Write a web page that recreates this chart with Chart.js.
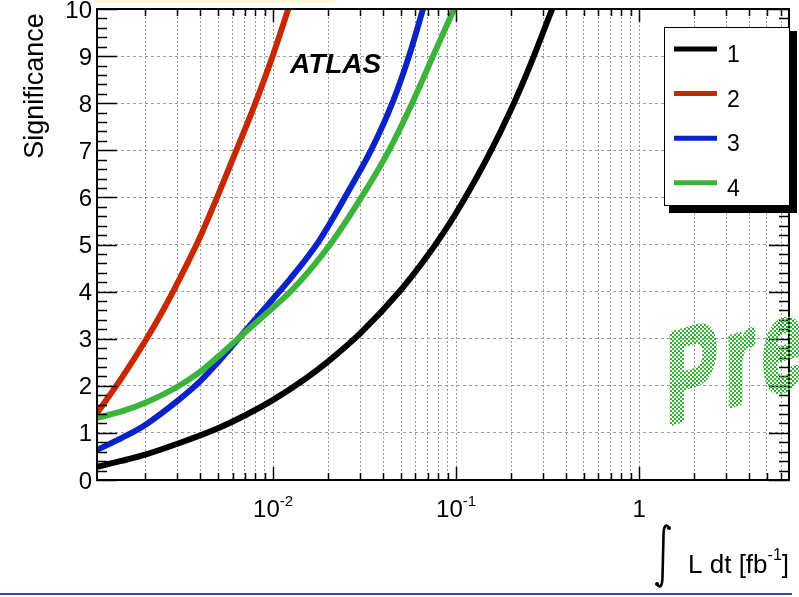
<!DOCTYPE html>
<html>
<head>
<meta charset="utf-8">
<script src="https://cdn.jsdelivr.net/npm/chart.js@4.4.0/dist/chart.umd.min.js"></script>
<style>
  html, body { margin: 0; padding: 0; background: #fff; }
  #wrap { width: 799px; height: 597px; position: relative; }
</style>
</head>
<body>
<div id="wrap"><canvas id="chart" width="799" height="597"></canvas></div>
<script>
// integrated luminosity [fb^-1] and significance for each scenario
const lumi1 = [0.00109, 0.0015, 0.002, 0.003, 0.005, 0.007, 0.01, 0.015, 0.02, 0.03, 0.05, 0.07, 0.1, 0.15, 0.2, 0.25, 0.335];
const sig1  = [0.28, 0.41, 0.54, 0.77, 1.1, 1.37, 1.7, 2.15, 2.52, 3.12, 4.04, 4.77, 5.67, 6.88, 7.87, 8.74, 10.0];

const lumi2 = [0.00109, 0.0015, 0.002, 0.0025, 0.003, 0.004, 0.005, 0.006, 0.008, 0.01, 0.0121];
const sig2  = [1.42, 2.19, 2.95, 3.6, 4.18, 5.17, 6.05, 6.8, 8.0, 9.03, 10.0];

const lumi3 = [0.00109, 0.0015, 0.002, 0.003, 0.004, 0.005, 0.0063, 0.01, 0.0124, 0.018, 0.0264, 0.0348, 0.0453, 0.0553, 0.066];
const sig3  = [0.64, 0.9, 1.17, 1.68, 2.1, 2.5, 2.95, 3.85, 4.27, 5.1, 6.2, 7.05, 8.05, 9.0, 10.0];

const lumi4 = [0.00109, 0.0015, 0.002, 0.003, 0.004, 0.005, 0.0063, 0.0085, 0.0128, 0.0205, 0.0315, 0.043, 0.0575, 0.0748, 0.0975];
const sig4  = [1.32, 1.46, 1.64, 1.98, 2.3, 2.62, 2.97, 3.42, 4.05, 5.0, 6.1, 7.0, 8.0, 9.0, 10.0];

const seriesNames  = ["1", "2", "3", "4"];
const seriesColors = ["#000000", "#c82800", "#0a23c8", "#3cb43c"];

const xMin = 0.00109, xMax = 6.6;
const yMin = 0, yMax = 10;
const yTickValues = [0, 1, 2, 3, 4, 5, 6, 7, 8, 9, 10];
const xLabelValues = [0.01, 0.1, 1];
const xLabelBase   = ["10", "10", "1"];
const xLabelExp    = ["-2", "-1", ""];

const FONT = '"Liberation Sans", Arial, Helvetica, sans-serif';

function points(xs, ys) {
  return xs.map((x, i) => ({ x: x, y: ys[i] }));
}

function logTicks(min, max) {
  const out = [];
  for (let e = Math.floor(Math.log10(min)); e <= Math.ceil(Math.log10(max)); e++) {
    for (let m = 1; m <= 9; m++) {
      const v = m * Math.pow(10, e);
      if (v >= min && v <= max) out.push({ value: v });
    }
  }
  return out;
}

function isDecade(v) {
  const l = Math.log10(v);
  return Math.abs(l - Math.round(l)) < 1e-9;
}

function line(ctx, x1, y1, x2, y2) {
  ctx.beginPath();
  ctx.moveTo(x1, y1);
  ctx.lineTo(x2, y2);
  ctx.stroke();
}

// thin integral sign drawn as a stroke
function integralSign(ctx, x, top, bottom) {
  ctx.save();
  ctx.strokeStyle = "#000";
  ctx.fillStyle = "#000";
  ctx.lineWidth = 2.6;
  ctx.lineCap = "round";
  ctx.beginPath();
  ctx.moveTo(x + 6, top + 4);
  ctx.bezierCurveTo(x + 3, top - 1, x + 0.5, top + 2, x + 0.5, top + 12);
  ctx.lineTo(x - 0.5, bottom - 12);
  ctx.bezierCurveTo(x - 0.5, bottom - 2, x - 3, bottom + 1, x - 6, bottom - 4);
  ctx.stroke();
  ctx.beginPath();
  ctx.arc(x + 6, top + 4, 2, 0, Math.PI * 2);
  ctx.arc(x - 6, bottom - 4, 2, 0, Math.PI * 2);
  ctx.fill();
  ctx.restore();
}

// frame, ticks, labels, legend and watermark in ROOT style
const decorations = {
  id: "decorations",
  afterDraw(chart) {
    const { ctx, chartArea: a, scales } = chart;
    const xs = scales.x, ys = scales.y;
    ctx.save();

    // faint strip and bottom rule
    ctx.fillStyle = "#fdf8d6";
    ctx.fillRect(95, 0, 240, 3);
    ctx.fillStyle = "#3c48a8";
    ctx.fillRect(0, 593, 792, 2);

    // tick marks
    ctx.strokeStyle = "#000";
    ctx.lineWidth = 1.5;
    xs.ticks.forEach((t) => {
      const px = Math.round(xs.getPixelForValue(t.value)) + 0.5;
      const len = isDecade(t.value) ? 13 : 7;
      line(ctx, px, a.bottom, px, a.bottom - len);
      line(ctx, px, a.top, px, a.top + len);
    });
    for (let i = 0; i <= 50; i++) {
      const py = Math.round(ys.getPixelForValue(i * 0.2)) + 0.5;
      const len = i % 5 === 0 ? 20 : 10;
      line(ctx, a.left, py, a.left + len, py);
      line(ctx, a.right, py, a.right - len, py);
    }
    ctx.lineWidth = 2;
    ctx.strokeRect(a.left, a.top, a.right - a.left, a.bottom - a.top);

    // y tick labels
    ctx.fillStyle = "#000";
    ctx.font = "24px " + FONT;
    ctx.textAlign = "right";
    ctx.textBaseline = "alphabetic";
    yTickValues.forEach((v) => {
      ctx.fillText(String(v), 92, ys.getPixelForValue(v) + 8.5);
    });

    // x tick labels with exponents
    ctx.textAlign = "left";
    xLabelValues.forEach((v, i) => {
      ctx.font = "24px " + FONT;
      const wb = ctx.measureText(xLabelBase[i]).width;
      ctx.font = "15px " + FONT;
      const we = xLabelExp[i] ? ctx.measureText(xLabelExp[i]).width : 0;
      const x0 = xs.getPixelForValue(v) - (wb + we) / 2;
      ctx.font = "24px " + FONT;
      ctx.fillText(xLabelBase[i], x0, 517);
      if (xLabelExp[i]) {
        ctx.font = "15px " + FONT;
        ctx.fillText(xLabelExp[i], x0 + wb, 506);
      }
    });

    // y title
    ctx.save();
    ctx.translate(43, 86);
    ctx.rotate(-Math.PI / 2);
    ctx.textAlign = "center";
    ctx.font = "27px " + FONT;
    ctx.fillText("Significance", 0, 0);
    ctx.restore();

    // x title, right aligned to the frame
    ctx.font = "26px " + FONT;
    const wMain = ctx.measureText("L dt [fb").width;
    const wClose = ctx.measureText("]").width;
    ctx.font = "16px " + FONT;
    const wSup = ctx.measureText("-1").width;
    const tx = 789 - wMain - wSup - wClose;
    ctx.font = "26px " + FONT;
    ctx.fillText("L dt [fb", tx, 573);
    ctx.font = "16px " + FONT;
    ctx.fillText("-1", tx + wMain, 560);
    ctx.font = "26px " + FONT;
    ctx.fillText("]", tx + wMain + wSup, 573);
    integralSign(ctx, 663, 524, 588);

    // ATLAS label
    ctx.font = "italic bold 28px " + FONT;
    ctx.fillText("ATLAS", 290, 73);

    // legend with drop shadow
    const lx = 664, ly = 27, lw = 125, lh = 178;
    ctx.fillStyle = "#000";
    ctx.fillRect(lx + 5, ly + 4, lw + 3, lh + 4);
    ctx.fillStyle = "#fff";
    ctx.fillRect(lx, ly, lw, lh);
    ctx.lineWidth = 1;
    ctx.strokeStyle = "#000";
    ctx.strokeRect(lx + 0.5, ly + 0.5, lw, lh);
    ctx.font = "23px " + FONT;
    chart.data.datasets.forEach((ds, i) => {
      const yy = 49 + i * 44.6;
      ctx.strokeStyle = ds.borderColor;
      ctx.lineWidth = 5;
      line(ctx, 674, yy, 717, yy);
      ctx.fillStyle = "#000";
      ctx.fillText(ds.label, 727, yy + 13);
    });

    // checkered "Preliminary" stamp, mostly past the right edge
    const off = document.createElement("canvas");
    off.width = chart.width;
    off.height = chart.height;
    const oc = off.getContext("2d");
    oc.setTransform(0.6, -0.18, 0, 1, 666, 425);
    oc.font = "bold 130px " + FONT;
    oc.fillStyle = "#000";
    oc.strokeStyle = "#000";
    oc.lineWidth = 5;
    oc.lineJoin = "round";
    let u = 0;
    for (const ch of "Preliminary") {
      oc.fillText(ch, u, 0);
      oc.strokeText(ch, u, 0);
      u += oc.measureText(ch).width + 11;
    }
    oc.setTransform(1, 0, 0, 1, 0, 0);
    const tile = document.createElement("canvas");
    tile.width = 4;
    tile.height = 4;
    const tc = tile.getContext("2d");
    tc.fillStyle = "#33b033";
    tc.fillRect(0, 0, 2, 2);
    tc.fillRect(2, 2, 2, 2);
    oc.globalCompositeOperation = "source-in";
    oc.fillStyle = oc.createPattern(tile, "repeat");
    oc.fillRect(0, 0, off.width, off.height);
    ctx.drawImage(off, 0, 0);

    ctx.restore();
  }
};

const datasets = [
  [lumi1, sig1], [lumi2, sig2], [lumi3, sig3], [lumi4, sig4]
].map(([xs, ys], i) => ({
  label: seriesNames[i],
  data: points(xs, ys),
  borderColor: seriesColors[i],
  backgroundColor: seriesColors[i],
  borderWidth: 6,
  pointRadius: 0,
  fill: false,
  cubicInterpolationMode: "monotone",
  order: [0, 1, 3, 2][i]
}));

new Chart(document.getElementById("chart"), {
  type: "line",
  data: { datasets: datasets },
  options: {
    responsive: false,
    animation: false,
    events: [],
    layout: { padding: { left: 97, top: 9, right: 10, bottom: 117 } },
    plugins: { legend: { display: false }, tooltip: { enabled: false } },
    scales: {
      x: {
        type: "logarithmic",
        min: xMin,
        max: xMax,
        afterBuildTicks: (axis) => { axis.ticks = logTicks(xMin, xMax); },
        afterFit: (axis) => { axis.height = 0; },
        ticks: { display: false, autoSkip: false },
        grid: { color: "#9a9a9a", lineWidth: 1, drawTicks: false },
        border: { display: false, dash: [2, 2] }
      },
      y: {
        type: "linear",
        min: yMin,
        max: yMax,
        afterBuildTicks: (axis) => { axis.ticks = yTickValues.map((v) => ({ value: v })); },
        afterFit: (axis) => { axis.width = 0; },
        ticks: { display: false },
        grid: { color: "#9a9a9a", lineWidth: 1, drawTicks: false },
        border: { display: false, dash: [3, 3] }
      }
    }
  },
  plugins: [decorations]
});
</script>
</body>
</html>
